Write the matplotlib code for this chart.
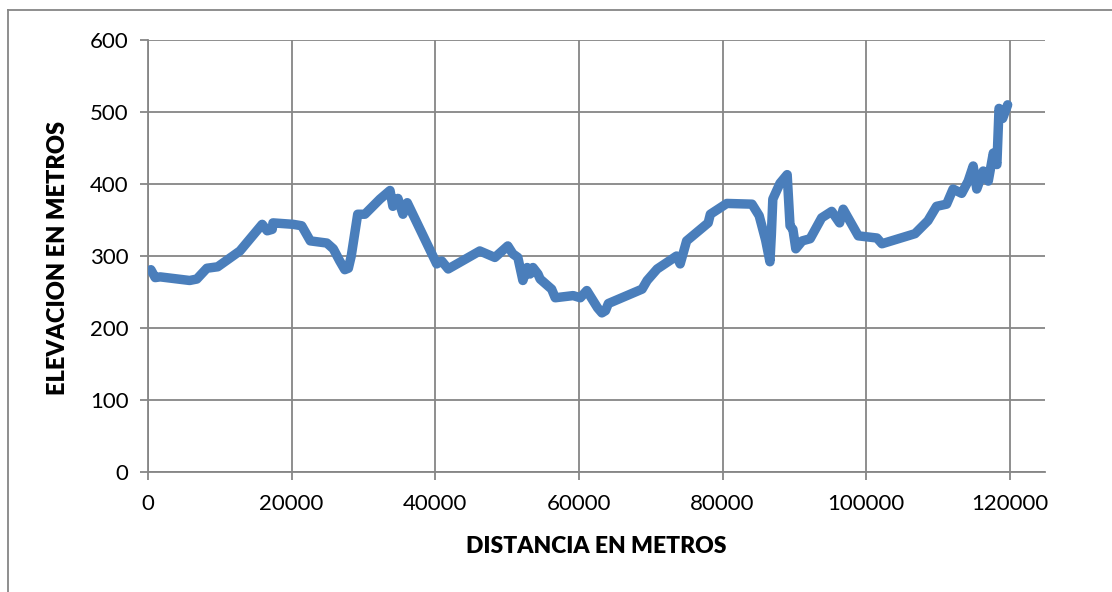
import matplotlib
matplotlib.use("Agg")
import matplotlib.pyplot as plt
from matplotlib.lines import Line2D

# distancia (m) y elevacion (m)
distancia = [400, 1000, 1700, 5800, 6800, 8200, 9700, 12800, 15900, 16600,
             17300, 17400, 20200, 21400, 22600, 24900, 25800, 26700, 27400, 27900,
             28300, 29200, 30200, 32300, 33700, 34100, 34800, 35500, 36100, 40200,
             40900, 41800, 46200, 48300, 50100, 50800, 51500, 52200, 52800, 53200,
             53600, 54300, 54600, 56200, 56700, 59200, 60200, 61100, 62600, 63200,
             63700, 64100, 68800, 69500, 70900, 73600, 74100, 75000, 78000, 78300,
             80600, 84100, 85100, 86000, 86600, 86800, 87000, 88000, 89000, 89400,
             89800, 90200, 91100, 92200, 93800, 95200, 96300, 96800, 98900, 101500,
             102200, 106800, 108600, 109800, 111200, 112100, 113300, 114200, 114900, 115400,
             116300, 117000, 117700, 118200, 118500, 119000, 119700]
elevacion = [281, 270, 271, 266, 268, 283, 285, 307, 344, 335,
             337, 346, 344, 342, 321, 318, 310, 293, 281, 283,
             300, 358, 358, 379, 391, 369, 380, 358, 374, 289,
             293, 282, 307, 298, 314, 303, 298, 266, 284, 275,
             284, 275, 268, 254, 242, 245, 242, 252, 228, 221,
             224, 234, 254, 266, 282, 300, 289, 321, 346, 358,
             373, 372, 356, 322, 292, 330, 379, 401, 413, 342,
             337, 310, 321, 324, 353, 362, 346, 365, 328, 325,
             317, 331, 349, 369, 372, 393, 387, 404, 425, 393,
             418, 404, 443, 427, 505, 491, 510]

xticks = [0, 20000, 40000, 60000, 80000, 100000, 120000]
yticks = [0, 100, 200, 300, 400, 500, 600]

W, H = 1112, 592
fig = plt.figure(figsize=(W / 100, H / 100), dpi=100)
ax = fig.add_axes([148 / W, 1 - 472 / H, (1045 - 148) / W, (472 - 40) / H])

grid = "#868686"
ax.plot(distancia, elevacion, color="#4a7ebb", lw=6.8, solid_joinstyle="round",
        solid_capstyle="round", zorder=3)

ax.set_xlim(0, 124900)
ax.set_ylim(0, 600)
ax.set_xticks(xticks)
ax.set_yticks(yticks)
ax.set_xticklabels([str(t) for t in xticks], fontsize=16, family="Lato")
ax.set_yticklabels([str(t) for t in yticks], fontsize=16, family="Lato")
ax.grid(True, color=grid, lw=1.3)
ax.set_axisbelow(True)
for s in ["top", "right"]:
    ax.spines[s].set_visible(False)
for s in ["left", "bottom"]:
    ax.spines[s].set_color(grid)
    ax.spines[s].set_linewidth(1.3)
ax.tick_params(length=6, width=1.3, color=grid, pad=8)
ax.tick_params(axis="x", pad=10)

ax.set_xlabel("DISTANCIA EN METROS", fontsize=16.5, fontweight="heavy",
              family="Lato", labelpad=16)
fig.text(58 / W, 1 - 258 / H, "ELEVACION EN METROS", rotation=90, fontsize=17,
         fontweight="heavy", family="Lato", ha="center", va="center")

# borde del grafico
fig.add_artist(Line2D([8 / W, 8 / W], [0, 1 - 10 / H], color=grid, lw=1.3,
                      transform=fig.transFigure))
fig.add_artist(Line2D([8 / W, 1], [1 - 10 / H, 1 - 10 / H], color=grid, lw=1.3,
                      transform=fig.transFigure))

fig.savefig("out.png", dpi=100)
